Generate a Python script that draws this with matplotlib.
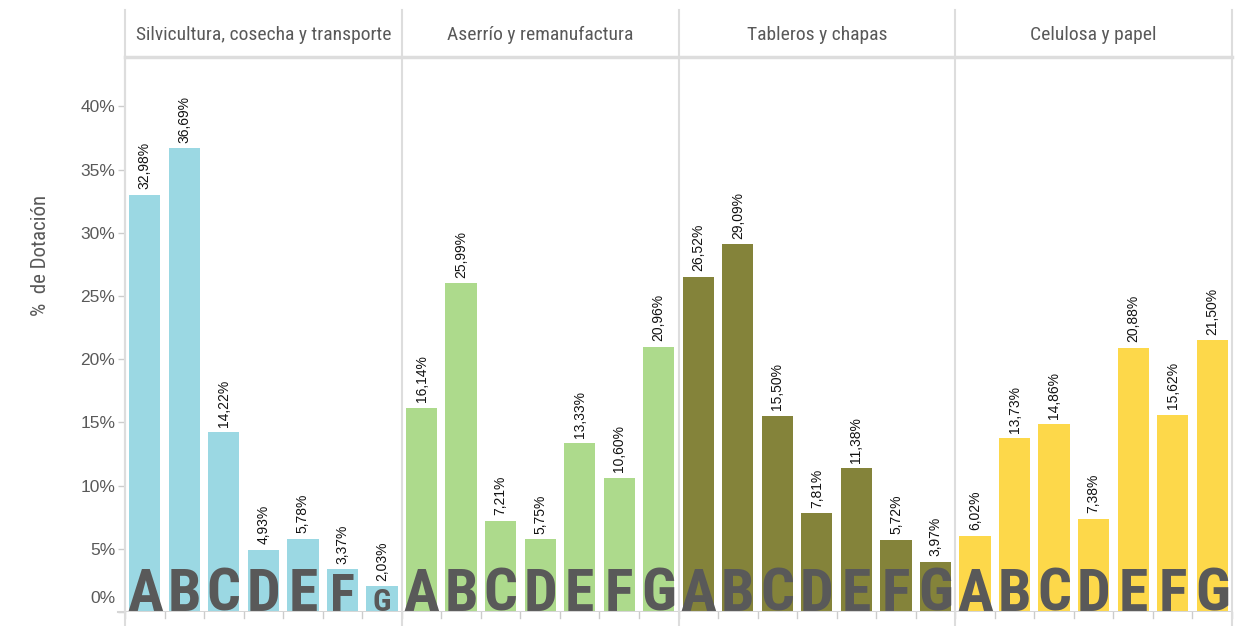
import matplotlib
matplotlib.use("Agg")
import matplotlib.pyplot as plt
import matplotlib.transforms as mtransforms
from matplotlib import font_manager
from matplotlib.lines import Line2D

# data
sectors = ["Silvicultura, cosecha y transporte", "Aserrío y remanufactura",
           "Tableros y chapas", "Celulosa y papel"]
letters = ["A", "B", "C", "D", "E", "F", "G"]
silvicultura = [32.98, 36.69, 14.22, 4.93, 5.78, 3.37, 2.03]
aserrio = [16.14, 25.99, 7.21, 5.75, 13.33, 10.60, 20.96]
tableros = [26.52, 29.09, 15.50, 7.81, 11.38, 5.72, 3.97]
celulosa = [6.02, 13.73, 14.86, 7.38, 20.88, 15.62, 21.50]
sector_colors = ["#9BD8E3", "#ADDA8C", "#84833A", "#FDD84A"]
yticks = [0, 5, 10, 15, 20, 25, 30, 35, 40]

series = [silvicultura, aserrio, tableros, celulosa]

# pick a condensed font if one is around
names = {f.name for f in font_manager.fontManager.ttflist}
narrow = "DejaVu Sans"
for cand in ["Liberation Sans Narrow", "DejaVu Sans Condensed", "Roboto Condensed"]:
    if cand in names:
        narrow = cand
        break

W, H = 1235, 626
fig = plt.figure(figsize=(W / 100, H / 100), dpi=100)
left, right, top, bottom = 125, 1232, 57, 612
ymax = 43.9
ax = fig.add_axes([left / W, (H - bottom) / H, (right - left) / W, (bottom - top) / H])

grey = "#595959"
n = len(letters)
for s, (vals, col) in enumerate(zip(series, sector_colors)):
    xs = [s * n + i for i in range(n)]
    ax.bar(xs, vals, width=0.79, color=col, zorder=2)
    for x, v, let in zip(xs, vals, letters):
        # value label above bar
        ax.annotate(f"{v:.2f}%".replace(".", ","), (x, v), xytext=(0, 4),
                    textcoords="offset points", rotation=90, ha="center",
                    va="bottom", fontsize=10, color="#111111",
                    family="Liberation Sans")
        # big letter at the foot of the bar, shrunk for short bars
        bar_px = v * (bottom - top) / ymax
        cap_px = min(43, 0.88 * bar_px)
        # cap height ~0.72 em, and 1 px = 0.72 pt at 100 dpi -> pt == cap px
        ax.text(x, 0.1, let, ha="center", va="baseline", fontsize=cap_px,
                fontweight="bold", color=grey, family=narrow, zorder=3)

ax.set_xlim(-0.5, 4 * n - 0.5)
ax.set_ylim(0, ymax)

for sp in ["top", "right", "bottom"]:
    ax.spines[sp].set_visible(False)
ax.spines["left"].set_color("#dddddd")
ax.spines["left"].set_linewidth(1.5)

ax.set_yticks(yticks)
ax.set_yticklabels([f"{t}%" for t in yticks], fontsize=12.5, color=grey,
                   family="Liberation Sans")
ax.tick_params(axis="y", length=5, color="#cccccc", width=1, pad=2)
lab0 = ax.get_yticklabels()[0]
lab0.set_transform(lab0.get_transform() +
                   mtransforms.ScaledTranslation(0, 11 / 72, fig.dpi_scale_trans))
ax.set_xticks([])

# bottom axis line and small ticks between categories
ax.axhline(0, color="#d6d6d6", lw=1.5, zorder=4)
for k in range(4 * n + 1):
    xb = k - 0.5
    ax.plot([xb, xb], [0, -0.5], color="#cccccc", lw=1, clip_on=False)
ax.plot([-0.5 - 0.18, -0.5], [0, 0], color="#d6d6d6", lw=1.5, clip_on=False)

# panel separators and header
trans = mtransforms.blended_transform_factory(ax.transData, fig.transFigure)
for s in range(5):
    xb = s * n - 0.5
    fig.add_artist(Line2D([xb, xb], [(H - 625) / H, (H - 10) / H], transform=trans,
                          color="#dddddd", lw=1.5))
fig.add_artist(Line2D([left / W, right / W], [(H - top) / H] * 2,
                      color="#dddddd", lw=2.5))
for s, name in enumerate(sectors):
    fig.text(0, (H - 35) / H, name, transform=trans, ha="center", va="center",
             fontsize=14, color=grey, family=narrow).set_x(s * n + 3)

fig.text(40 / W, (H - 255) / H, "%  de Dotación", rotation=90, ha="center",
         va="center", fontsize=15, color=grey, family=narrow)

fig.savefig("out.png", dpi=100)
